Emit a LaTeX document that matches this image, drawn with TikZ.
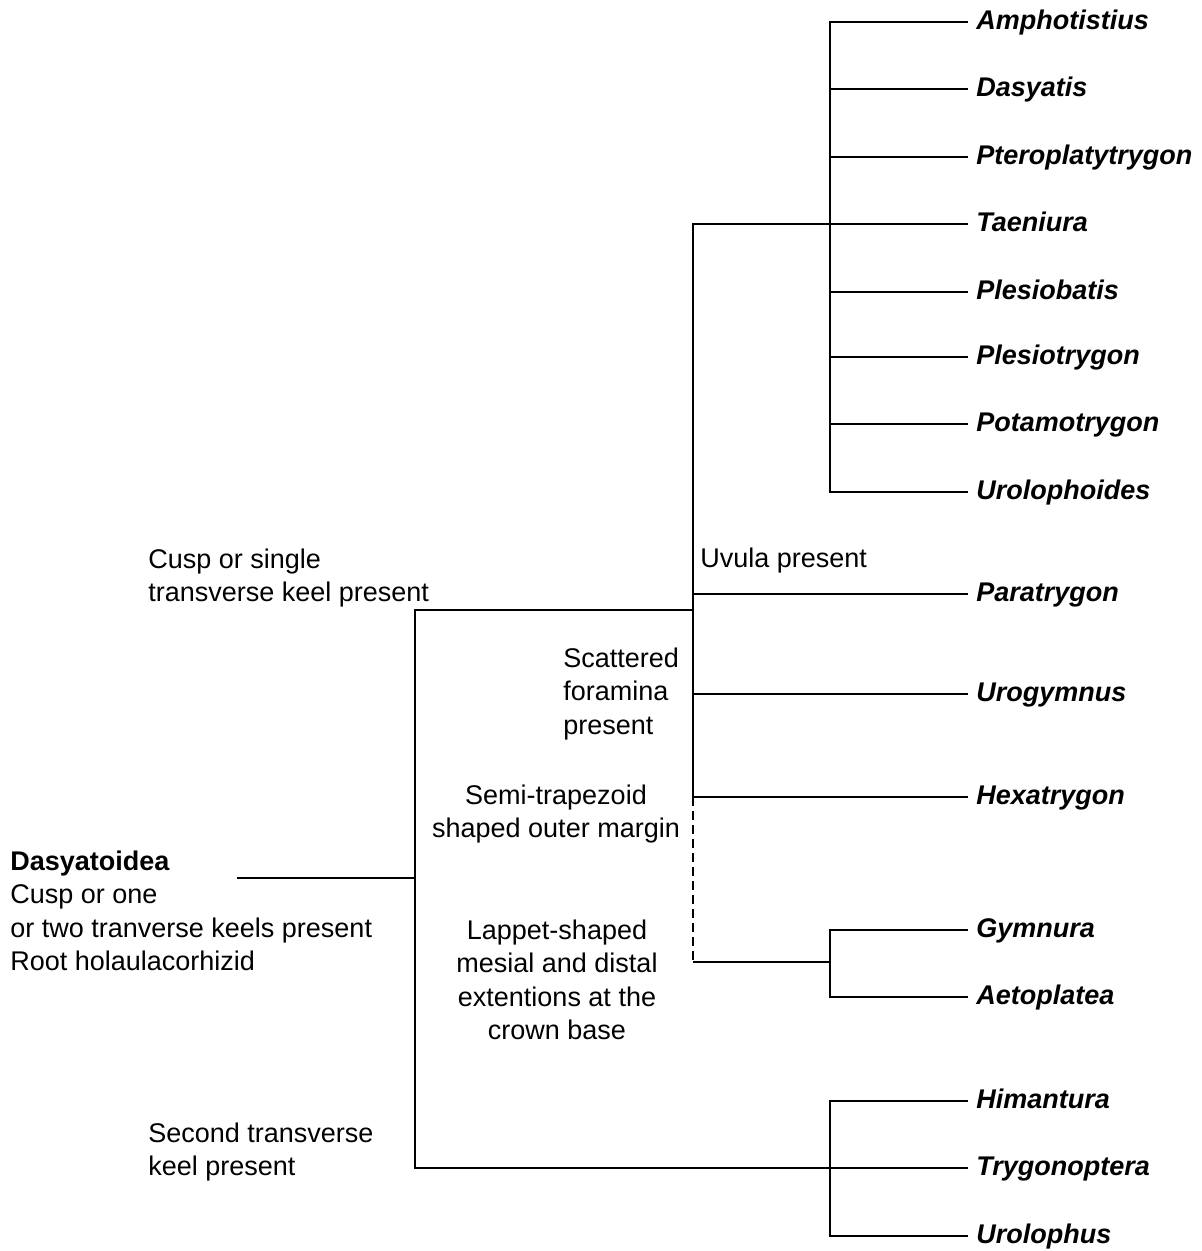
\documentclass[tikz,border=0pt]{standalone}
\usepackage{fontspec}
\setmainfont{Liberation Sans}

\tikzset{
  taxon/.style={anchor=west, inner xsep=4pt, inner ysep=0pt, text height=0.72em, text depth=0pt,
    font=\fontsize{13.5}{16.5}\selectfont\bfseries\itshape},
  note/.style={inner sep=0pt, font=\fontsize{13.5}{16.75}\selectfont},
  clade/.style={line width=0.9pt, black}
}

\begin{document}
\begin{tikzpicture}[x=0.5pt, y=-0.5pt]
 \useasboundingbox (0,0) rectangle (1202,1251);

 % branching points
 \coordinate (stem) at (237,878);
 \coordinate (root) at (415,878);
 \coordinate (cusp) at (693,610);
 \coordinate (poly) at (830,224);
 \coordinate (lapp) at (830,962);
 \coordinate (keel) at (830,1168);

 % taxa
 \node [taxon] (amph) at (968,22)   {Amphotistius};
 \node [taxon] (dasy) at (968,89)   {Dasyatis};
 \node [taxon] (pter) at (968,157)  {Pteroplatytrygon};
 \node [taxon] (taen) at (968,224)  {Taeniura};
 \node [taxon] (ples) at (968,292)  {Plesiobatis};
 \node [taxon] (plsi) at (968,357)  {Plesiotrygon};
 \node [taxon] (pota) at (968,424)  {Potamotrygon};
 \node [taxon] (urol) at (968,492)  {Urolophoides};
 \node [taxon] (para) at (968,594)  {Paratrygon};
 \node [taxon] (urog) at (968,694)  {Urogymnus};
 \node [taxon] (hexa) at (968,797)  {Hexatrygon};
 \node [taxon] (gymn) at (968,930)  {Gymnura};
 \node [taxon] (aeto) at (968,997)  {Aetoplatea};
 \node [taxon] (hima) at (968,1101) {Himantura};
 \node [taxon] (tryg) at (968,1168) {Trygonoptera};
 \node [taxon] (urlp) at (968,1236) {Urolophus};

 % characters
 \node [note, anchor=west, align=left] (dasyatoidea) at (10,911)
   {\textbf{Dasyatoidea}\\Cusp or one\\or two tranverse keels present\\Root holaulacorhizid};
 \node [note, anchor=west, align=left] (single) at (148,578)
   {Cusp or single\\transverse keel present};
 \node [note, anchor=west] (uvula) at (700,561) {Uvula present};
 \node [note, anchor=west, align=left] (scatter) at (563,694)
   {Scattered\\foramina\\present};
 \node [note, align=center] (semi) at (556,814)
   {Semi-trapezoid\\shaped outer margin};
 \node [note, align=center] (lappet) at (557,980)
   {Lappet-shaped\\mesial and distal\\extentions at the\\crown base};
 \node [note, anchor=west, align=left] (second) at (148,1152)
   {Second transverse\\keel present};

 % tree
 \draw [clade] (stem) -- (root);
 \draw [clade] (cusp) -| (root) |- (keel);
 \draw [clade] (cusp) |- (taen.west);
 \draw [clade] (cusp) |- (hexa.west);
 \draw [clade] (cusp |- para.west) -- (para.west);
 \draw [clade] (cusp |- urog.west) -- (urog.west);
 \draw [clade] (amph.west) -| (poly) |- (urol.west);
 \foreach \t in {dasy,pter,ples,plsi,pota}
   \draw [clade] (poly |- \t.west) -- (\t.west);
 \draw [clade, dash pattern=on 4.5pt off 2.5pt] (cusp |- hexa.west) -- (cusp |- lapp);
 \draw [clade] (cusp |- lapp) -- (lapp);
 \draw [clade] (gymn.west) -| (lapp) |- (aeto.west);
 \draw [clade] (hima.west) -| (keel) |- (urlp.west);
 \draw [clade] (keel) -- (tryg.west);

\end{tikzpicture}
\end{document}
